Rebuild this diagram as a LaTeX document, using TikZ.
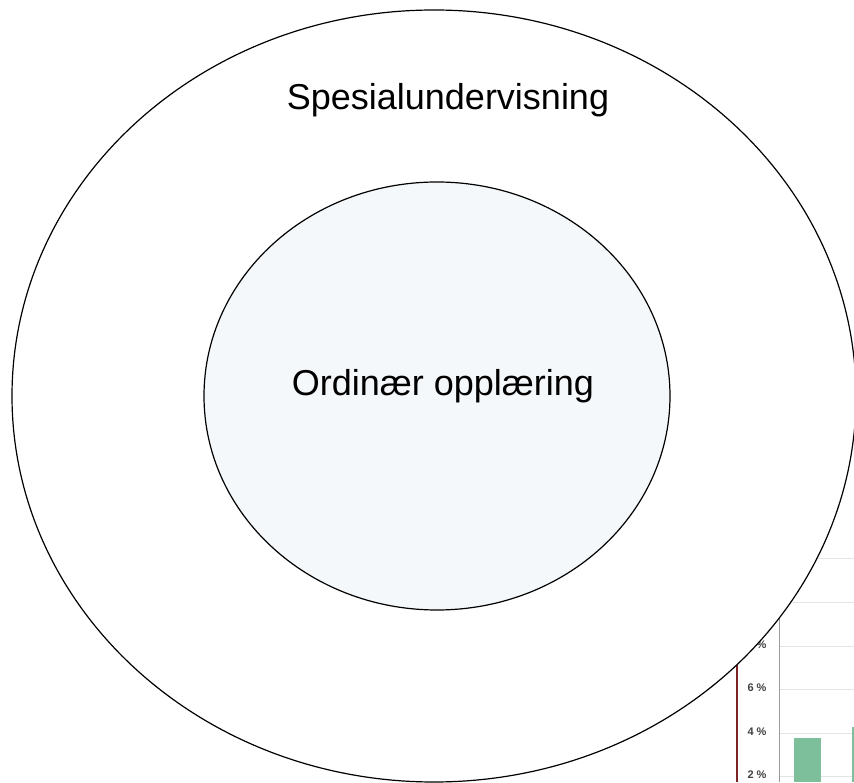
\documentclass[tikz,border=0pt]{standalone}
\usepackage{fontspec}
\setmainfont{Liberation Sans}
\usetikzlibrary{shapes.geometric}
\definecolor{innerfill}{HTML}{F4F8FA}
\definecolor{gridgray}{HTML}{E4E4E4}
\definecolor{axisgray}{HTML}{9A9A9A}
\definecolor{barred}{HTML}{7A2424}
\definecolor{bargreen}{HTML}{7DBF9B}
\definecolor{ticktext}{HTML}{404040}
\begin{document}
\begin{tikzpicture}[x=1pt,y=1pt,
   ring/.style={draw=black,line width=1.2pt,ellipse,inner sep=0pt},
   ringlabel/.style={font=\fontsize{36}{40}\selectfont,inner sep=0pt},
   ticklabel/.style={font=\fontsize{11}{12}\selectfont\bfseries,text=ticktext,inner sep=0pt}]
\useasboundingbox (0,0) rectangle (854,782);
% chart in the background
\foreach \gy in {6,49,93,136,180,224}
   \draw[gridgray,line width=0.8pt] (779,\gy) -- (860,\gy);
\coordinate (axtop) at (779,320);
\coordinate (axbot) at (779,0);
\draw[axisgray,line width=1pt] (axtop) -- (axbot);
\coordinate (redtop) at (737,320);
\coordinate (redbot) at (737,0);
\draw[barred,line width=1.2pt] (redtop) -- (redbot);
\fill[bargreen] (794,0) rectangle (821,44);
\fill[bargreen] (852,0) rectangle (860,55);
\foreach \lab/\ly in {8/137,6/94,4/50,2/7}
   \node[ticklabel] (tick\lab) at (757,\ly) {\lab~\%};
% rings
\node[ring,fill=white,minimum width=844pt,minimum height=772pt] (spes) at (434,386) {};
\node[ring,fill=innerfill,minimum width=466pt,minimum height=428pt] (ord) at (437,386) {};
\node[ringlabel] (spestext) at (448,682) {Spesialundervisning};
\node[ringlabel] (ordtext) at (443,396) {Ordinær opplæring};
\end{tikzpicture}
\end{document}
